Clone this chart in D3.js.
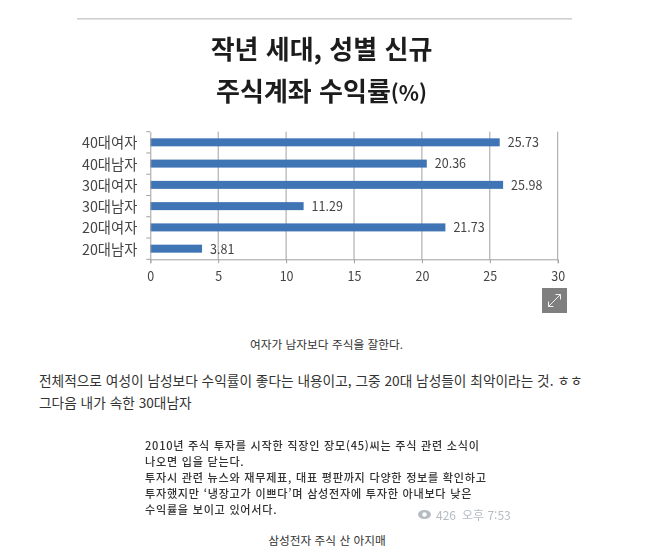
<!DOCTYPE html>
<html lang="ko">
<head>
<meta charset="utf-8">
<title>작년 세대, 성별 신규 주식계좌 수익률</title>
<script src="https://cdn.jsdelivr.net/npm/d3@7/dist/d3.min.js"></script>
<style>
  html, body { margin: 0; padding: 0; background: #fff; overflow: hidden; }
  svg { display: block; }
  text { font-family: "Noto Sans CJK KR", "Noto Sans", sans-serif; }
</style>
</head>
<body>
<svg id="page" width="670" height="558"></svg>
<script>
// Chart data
const categories = ["40대여자", "40대남자", "30대여자", "30대남자", "20대여자", "20대남자"];
const returns = [25.73, 20.36, 25.98, 11.29, 21.73, 3.81];
const xTicks = [0, 5, 10, 15, 20, 25, 30];

// Surrounding article text
const titleLines = ["작년 세대, 성별 신규", "주식계좌 수익률"];
const titleUnit = "(%)";
const chartCaption = "여자가 남자보다 주식을 잘한다.";
const bodyLines = [
  "전체적으로 여성이 남성보다 수익률이 좋다는 내용이고, 그중 20대 남성들이 최악이라는 것. ㅎㅎ",
  "그다음 내가 속한 30대남자"
];
const quoteLines = [
  "2010년 주식 투자를 시작한 직장인 장모(45)씨는 주식 관련 소식이",
  "나오면 입을 닫는다.",
  "투자시 관련 뉴스와 재무제표, 대표 평판까지 다양한 정보를 확인하고",
  "투자했지만 ‘냉장고가 이쁘다’며 삼성전자에 투자한 아내보다 낮은",
  "수익률을 보이고 있어서다."
];
const quoteMeta = ["426", "오후 7:53"];
const quoteCaption = "삼성전자 주식 산 아지매";

const svg = d3.select("#page");

// Soft edge for the embedded chart graphic
const defs = svg.append("defs");
defs.append("filter").attr("id", "soft")
  .attr("x", "-5%").attr("y", "-5%").attr("width", "110%").attr("height", "110%")
  .append("feGaussianBlur").attr("stdDeviation", 0.45);

// Rule above the graphic
svg.append("rect")
  .attr("x", 77).attr("y", 18).attr("width", 495).attr("height", 1.6)
  .attr("fill", "#cfcfcf");

const graphic = svg.append("g").attr("filter", "url(#soft)");

// Title
graphic.selectAll("text.title").data(titleLines).join("text")
  .attr("class", "title")
  .attr("x", 321.5)
  .attr("y", (d, i) => 58.5 + i * 42.5)
  .attr("text-anchor", "middle")
  .attr("font-size", 26)
  .attr("font-weight", 700)
  .attr("fill", "#1c1c1c")
  .each(function (d, i) {
    const t = d3.select(this);
    t.append("tspan").text(d);
    if (i === 1) t.append("tspan").attr("font-size", 21).text(titleUnit);
  });

// Scales
const x = d3.scaleLinear().domain([0, 30]).range([150.3, 557.7]);
const y = d3.scaleBand().domain(categories).range([131.7, 259.3]);
const barHeight = 8;

// Vertical gridlines
graphic.selectAll("line.grid").data(xTicks.slice(1)).join("line")
  .attr("class", "grid")
  .attr("x1", d => x(d)).attr("x2", d => x(d))
  .attr("y1", y.range()[0]).attr("y2", y.range()[1])
  .attr("stroke", "#a0a0a0").attr("stroke-width", 1);

// Bars
graphic.selectAll("rect.bar").data(returns).join("rect")
  .attr("class", "bar")
  .attr("x", x(0))
  .attr("y", (d, i) => y(categories[i]) + (y.bandwidth() - barHeight) / 2)
  .attr("width", d => x(d) - x(0))
  .attr("height", barHeight)
  .attr("fill", "#3f74b5");

// Value labels
graphic.selectAll("text.value").data(returns).join("text")
  .attr("class", "value")
  .attr("x", d => x(d) + 8)
  .attr("y", (d, i) => y(categories[i]) + y.bandwidth() / 2 + 0.5)
  .attr("dy", "0.35em")
  .attr("font-size", 12.5)
  .attr("fill", "#444")
  .text(d => d.toFixed(2));

// Axes
const xAxis = d3.axisBottom(x).tickValues(xTicks).tickSize(4).tickPadding(9).tickFormat(d3.format("d"));
const yAxis = d3.axisLeft(y).tickSize(0).tickPadding(13);

const gx = graphic.append("g").attr("transform", `translate(0,${y.range()[1]})`).call(xAxis);
gx.select(".domain").attr("stroke", "#a0a0a0");
gx.selectAll(".tick line").attr("stroke", "#a0a0a0");
gx.selectAll(".tick text").attr("font-size", 12.5).attr("fill", "#444")
  .style("font-family", '"Noto Sans CJK KR", sans-serif');

const gy = graphic.append("g").attr("transform", `translate(${x(0)},0)`).call(yAxis);
gy.select(".domain").attr("stroke", "#a0a0a0");
gy.selectAll(".tick text").attr("font-size", 14.3).attr("fill", "#444").attr("dy", "0.42em")
  .style("font-family", '"Noto Sans CJK KR", sans-serif');

// Category separators on the vertical axis
const bandEdges = categories.map(c => y(c)).concat(y.range()[1]);
graphic.selectAll("line.sep").data(bandEdges).join("line")
  .attr("class", "sep")
  .attr("x1", x(0) - 4).attr("x2", x(0))
  .attr("y1", d => d).attr("y2", d => d)
  .attr("stroke", "#a0a0a0");

// Expand button
const btn = svg.append("g").attr("transform", "translate(542,288)");
btn.append("rect").attr("width", 25).attr("height", 25).attr("fill", "#7f7f7f");
btn.append("path")
  .attr("d", "M6.5 18.5 L18.5 6.5 M13.5 6.5 H18.5 V11.5 M6.5 13.5 V18.5 H11.5")
  .attr("fill", "none").attr("stroke", "#f0f0f0").attr("stroke-width", 1);

// Caption under the graphic
svg.append("text")
  .attr("x", 326.5).attr("y", 348.5).attr("text-anchor", "middle")
  .attr("font-size", 11.7).attr("fill", "#333").text(chartCaption);

// Body paragraph
svg.selectAll("text.body").data(bodyLines).join("text")
  .attr("class", "body")
  .attr("x", 39).attr("y", (d, i) => 385.5 + i * 22.7)
  .attr("font-size", 13.7).attr("fill", "#333").text(d => d);

// Quoted news card
const quote = svg.append("g").attr("filter", "url(#soft)");
quote.selectAll("text.quote").data(quoteLines).join("text")
  .attr("class", "quote")
  .attr("x", 145).attr("y", (d, i) => 449.5 + i * 16.2)
  .attr("font-size", 11.1).attr("letter-spacing", 0.75)
  .attr("font-weight", 500).attr("fill", "#333").text(d => d);

// View count and time stamp
const eye = quote.append("g").attr("transform", "translate(424.5,514.5)");
eye.append("ellipse").attr("rx", 6.5).attr("ry", 4.5).attr("fill", "#b5bcc2");
eye.append("circle").attr("r", 2.2).attr("fill", "#fff");
quote.append("text").attr("x", 436).attr("y", 520)
  .attr("font-size", 12).attr("fill", "#b5bcc2").text(quoteMeta[0]);
quote.append("text").attr("x", 462).attr("y", 520)
  .attr("font-size", 12).attr("fill", "#b5bcc2").text(quoteMeta[1]);

svg.append("text")
  .attr("x", 327).attr("y", 545).attr("text-anchor", "middle")
  .attr("font-size", 11.7).attr("fill", "#333").text(quoteCaption);
</script>
</body>
</html>
